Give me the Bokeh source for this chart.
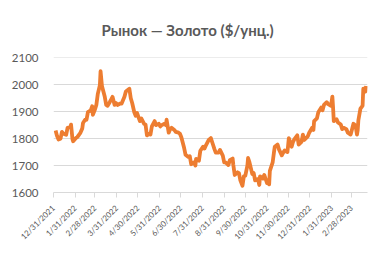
import pandas as pd
from bokeh.plotting import figure
from bokeh.models import FixedTicker, ColumnDataSource
from bokeh.embed import file_html
from bokeh.resources import INLINE
from math import pi

title_text = "Рынок — Золото ($/унц.)"

dates = [
    "2022-01-03", "2022-01-05", "2022-01-07", "2022-01-10", "2022-01-12", "2022-01-14",
    "2022-01-18", "2022-01-20", "2022-01-24", "2022-01-25", "2022-01-27", "2022-01-28",
    "2022-02-01", "2022-02-03", "2022-02-07", "2022-02-10", "2022-02-11", "2022-02-14",
    "2022-02-16", "2022-02-18", "2022-02-22", "2022-02-24", "2022-02-25", "2022-02-28",
    "2022-03-02", "2022-03-04", "2022-03-07", "2022-03-08", "2022-03-10", "2022-03-11",
    "2022-03-14", "2022-03-16", "2022-03-18", "2022-03-21", "2022-03-23", "2022-03-25",
    "2022-03-28", "2022-03-30", "2022-04-01", "2022-04-05", "2022-04-07", "2022-04-11",
    "2022-04-13", "2022-04-18", "2022-04-20", "2022-04-22", "2022-04-25", "2022-04-27",
    "2022-04-29", "2022-05-03", "2022-05-05", "2022-05-09", "2022-05-11", "2022-05-13",
    "2022-05-16", "2022-05-18", "2022-05-20", "2022-05-24", "2022-05-26", "2022-05-30",
    "2022-06-01", "2022-06-03", "2022-06-07", "2022-06-09", "2022-06-10", "2022-06-13",
    "2022-06-15", "2022-06-17", "2022-06-21", "2022-06-23", "2022-06-27", "2022-06-29",
    "2022-07-01", "2022-07-05", "2022-07-07", "2022-07-11", "2022-07-13", "2022-07-15",
    "2022-07-19", "2022-07-21", "2022-07-22", "2022-07-26", "2022-07-28", "2022-08-01",
    "2022-08-03", "2022-08-05", "2022-08-09", "2022-08-12", "2022-08-15", "2022-08-17",
    "2022-08-19", "2022-08-23", "2022-08-25", "2022-08-29", "2022-08-31", "2022-09-02",
    "2022-09-06", "2022-09-08", "2022-09-12", "2022-09-13", "2022-09-15", "2022-09-19",
    "2022-09-21", "2022-09-23", "2022-09-26", "2022-09-28", "2022-09-30", "2022-10-03",
    "2022-10-04", "2022-10-06", "2022-10-10", "2022-10-12", "2022-10-14", "2022-10-18",
    "2022-10-20", "2022-10-21", "2022-10-25", "2022-10-27", "2022-10-31", "2022-11-02",
    "2022-11-03", "2022-11-04", "2022-11-08", "2022-11-10", "2022-11-11", "2022-11-15",
    "2022-11-17", "2022-11-21", "2022-11-23", "2022-11-25", "2022-11-29", "2022-11-30",
    "2022-12-01", "2022-12-05", "2022-12-07", "2022-12-09", "2022-12-13", "2022-12-15",
    "2022-12-19", "2022-12-21", "2022-12-23", "2022-12-28", "2022-12-30", "2023-01-03",
    "2023-01-05", "2023-01-06", "2023-01-10", "2023-01-12", "2023-01-16", "2023-01-18",
    "2023-01-20", "2023-01-24", "2023-01-26", "2023-01-30", "2023-02-01", "2023-02-02",
    "2023-02-03", "2023-02-07", "2023-02-09", "2023-02-13", "2023-02-15", "2023-02-17",
    "2023-02-21", "2023-02-23", "2023-02-27", "2023-03-01", "2023-03-03", "2023-03-06",
    "2023-03-08", "2023-03-09", "2023-03-10", "2023-03-13", "2023-03-15", "2023-03-16",
    "2023-03-17", "2023-03-20", "2023-03-21",
]

prices = [
    1830, 1810, 1797, 1800, 1825, 1818,
    1814, 1840, 1843, 1852, 1798, 1790,
    1802, 1806, 1820, 1838, 1858, 1870,
    1870, 1898, 1905, 1920, 1888, 1908,
    1925, 1965, 1998, 2050, 1995, 1985,
    1955, 1925, 1922, 1935, 1945, 1955,
    1925, 1932, 1925, 1930, 1930, 1955,
    1975, 1985, 1950, 1932, 1898, 1885,
    1895, 1865, 1875, 1855, 1852, 1812,
    1818, 1815, 1845, 1865, 1850, 1855,
    1845, 1850, 1855, 1850, 1870, 1822,
    1835, 1840, 1832, 1825, 1822, 1818,
    1805, 1765, 1740, 1732, 1735, 1705,
    1712, 1700, 1725, 1718, 1755, 1770,
    1763, 1775, 1795, 1802, 1778, 1762,
    1748, 1748, 1758, 1737, 1712, 1712,
    1702, 1720, 1726, 1702, 1665, 1675,
    1672, 1645, 1625, 1660, 1662, 1700,
    1728, 1712, 1668, 1672, 1645, 1650,
    1628, 1660, 1652, 1665, 1635, 1645,
    1630, 1680, 1712, 1752, 1770, 1778,
    1760, 1738, 1748, 1756, 1750, 1775,
    1802, 1770, 1788, 1798, 1812, 1778,
    1788, 1815, 1795, 1808, 1822, 1840,
    1832, 1865, 1875, 1898, 1915, 1905,
    1925, 1935, 1928, 1922, 1956, 1915,
    1865, 1872, 1860, 1852, 1835, 1840,
    1835, 1822, 1815, 1835, 1855, 1848,
    1815, 1830, 1868, 1912, 1918, 1922,
    1985, 1975, 1995,
]

tick_dates = [
    "2021-12-31", "2022-01-31", "2022-02-28", "2022-03-31", "2022-04-30",
    "2022-05-31", "2022-06-30", "2022-07-31", "2022-08-31", "2022-09-30",
    "2022-10-31", "2022-11-30", "2022-12-31", "2023-01-31", "2023-02-28",
]
tick_labels = [
    "12/31/2021", "1/31/2022", "2/28/2022", "3/31/2022", "4/30/2022",
    "5/31/2022", "6/30/2022", "7/31/2022", "8/31/2022", "9/30/2022",
    "10/31/2022", "11/30/2022", "12/31/2022", "1/31/2023", "2/28/2023",
]
y_ticks = [1600, 1700, 1800, 1900, 2000, 2100]

base = pd.Timestamp("2021-12-31")
xd = [(pd.Timestamp(d) - base).days for d in dates]
xt = [(pd.Timestamp(d) - base).days for d in tick_dates]
x_end = (pd.Timestamp("2023-03-23") - base).days

src = ColumnDataSource(dict(x=xd, y=prices))

p = figure(width=386, height=255, output_backend="svg", toolbar_location=None,
           x_range=(0, x_end), y_range=(1600, 2101))
p.min_border_left = 53
p.min_border_right = 19
p.min_border_top = 56
p.min_border_bottom = 63
p.background_fill_color = "white"
p.border_fill_color = "white"
p.outline_line_color = None

p.title.text = title_text
p.title.text_font = "Lato"
p.title.text_font_size = "15px"
p.title.text_font_style = "bold"
p.title.text_color = "#595959"
p.title.align = "left"
p.title.offset = 48
p.title.vertical_align = "bottom"
p.title.standoff = 37

p.line("x", "y", source=src, line_color="#ED7D31", line_width=3.8, line_join="round")

p.xgrid.grid_line_color = None
p.ygrid.grid_line_color = "#D9D9D9"
p.ygrid.grid_line_width = 1
p.yaxis.ticker = FixedTicker(ticks=y_ticks)
p.yaxis.axis_line_color = None
p.yaxis.major_tick_line_color = None
p.yaxis.minor_tick_line_color = None
p.yaxis.major_label_text_font = "Lato"
p.yaxis.major_label_text_font_size = "11.5px"
p.yaxis.major_label_text_color = "#595959"
p.yaxis.major_label_standoff = 9

p.xaxis.ticker = FixedTicker(ticks=xt)
p.xaxis.major_label_overrides = {t: l for t, l in zip(xt, tick_labels)}
p.xaxis.major_label_orientation = pi / 4
p.xaxis.axis_line_color = "#D9D9D9"
p.xaxis.major_tick_line_color = "#D9D9D9"
p.xaxis.major_tick_out = 5
p.xaxis.major_tick_in = 0
p.xaxis.minor_tick_line_color = None
p.xaxis.major_label_text_font = "Lato"
p.xaxis.major_label_text_font_size = "8px"
p.xaxis.major_label_text_color = "#595959"
p.xaxis.major_label_standoff = 9

open("out.html", "w").write(file_html(p, INLINE))
